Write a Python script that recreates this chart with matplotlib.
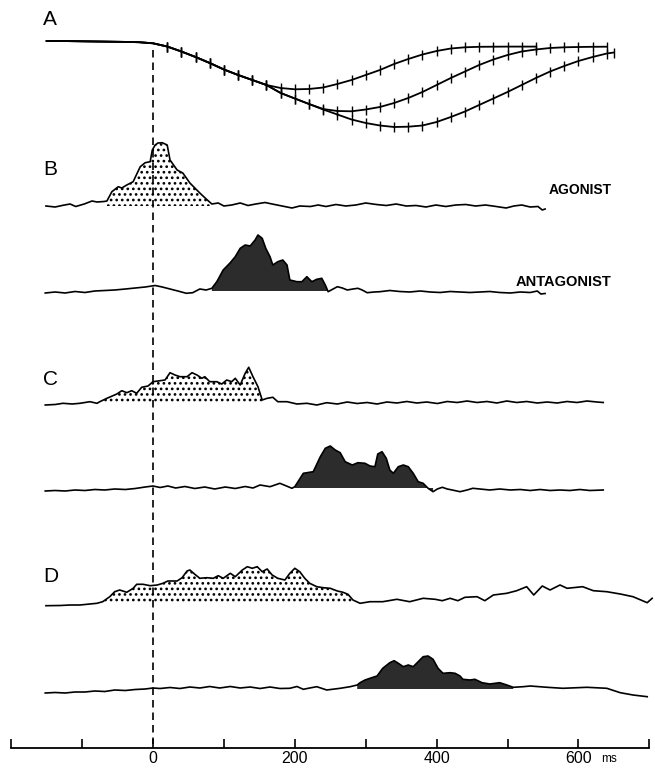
import numpy as np
import matplotlib.pyplot as plt

plt.rcParams['font.family'] = ['Liberation Sans', 'DejaVu Sans']
plt.rcParams['hatch.linewidth'] = 1.15

# ---------------- A: position traces (ms, downward deflection) ----------------
pos_t_early = [-150, -140, -120, -100, -80, -60, -40, -20, 0, 20, 40, 60, 80, 100, 120, 140, 160]
pos_early = [0, 0, 0.1, 0.3, 0.5, 0.7, 0.9, 1.2, 2.3, 5.5, 10.5, 16, 22, 28.5, 34, 39, 44]

pos_fast_t = [180, 200, 220, 240, 260, 280, 300, 320, 340, 360, 380, 400, 420, 440, 460, 480, 500, 520, 540]
pos_fast = [47, 48.3, 48, 46.5, 43, 39, 34, 29, 23, 18, 13.5, 10, 7.5, 6.3, 5.8, 5.7, 5.6, 5.6, 5.6]

pos_mid_t = [180, 200, 220, 240, 260, 280, 300, 320, 340, 360, 380, 400, 420, 440, 460, 480, 500,
             520, 540, 560, 580, 600, 620, 640]
pos_mid = [52, 57.5, 63, 68, 70, 70.3, 68.5, 66, 62, 57, 51, 44, 37, 30.5, 24, 18.5, 14,
           10.5, 8.5, 7, 6.3, 6, 5.8, 5.7]

pos_slow_t = [180, 200, 220, 240, 260, 280, 300, 320, 340, 360, 380, 400, 420, 440, 460, 480, 500,
              520, 540, 560, 580, 600, 620, 640, 650]
pos_slow = [52, 57.5, 63, 68.5, 73.5, 78.5, 82, 84.5, 86, 85.7, 84.5, 81, 76, 70.5, 64, 57.5, 51,
            44, 37, 30.5, 25, 20, 16, 12.5, 11.5]

# ---------------- B: EMG ----------------
b_ago_t = [-151, -138, -127, -117, -109, -97, -86, -79, -69, -65, -58, -49, -44, -37, -28, -18, -11, -4,
           -1, 3, 7, 13, 20, 24, 34, 42, 52, 66, 75, 83, 92, 100, 111, 123, 134, 145, 158, 168, 182,
           196, 207, 222, 233, 244, 258, 272, 286, 300, 315, 329, 343, 357, 371, 385, 399, 413, 427,
           441, 455, 469, 484, 498, 509, 520, 532, 543, 549, 553]
b_ago = [0, -1, 0.7, 2, -0.5, 2, 5, 4, 4.5, 5, 14.3, 19.3, 18, 21, 24.3, 39.3, 43.3, 44.3,
         56, 61, 63, 63.3, 61, 46, 36, 33, 23, 13, 7, 2, 3, 0, 1, 3, 0.5, 2, 3.5, 2, 0,
         -2, 0, -0.5, 1, -0.5, 1.5, 0, 1, 3, 1.5, 0.5, 2, 0, 0.5, -1, 1, -0.5, 1,
         1.5, 0, 1, -0.5, -2, 0, 1, -1, -0.5, -4, -3]

b_ant_t = [-152, -138, -124, -110, -96, -82, -68, -54, -39, -25, -11, 3, 13, 24, 35, 47, 56, 66, 75,
           83, 90, 99, 109, 116, 123, 130, 137, 144, 148, 154, 159, 165, 169, 176, 183, 189, 193,
           203, 210, 217, 224, 231, 238, 243, 247, 254, 260, 267, 274, 282, 289, 295, 302, 312,
           320, 334, 348, 362, 377, 391, 405, 419, 433, 447, 461, 475, 489, 504, 518, 532, 542,
           547, 553]
b_ant = [-2, -1, -2, -0.5, -1.5, 0, 0.5, 1, 2, 3, 4, 5.5, 4, 2, 0, -2.3, -1.7, 2, 1,
         2.7, 9.3, 21, 28.3, 34.3, 42.7, 46, 45, 51, 56, 52.7, 42.7, 34.3, 26, 29.3, 31, 26, 11,
         9.3, 9.3, 14.3, 9.3, 11.7, 12.7, 6, -0.7, 2, 4.3, 3, 1, 2, 2.7, 1, -1.7, -1,
         -0.7, 0.5, -0.5, -1, 0, -1, -1.5, -0.5, -1, -1.5, -1, -0.5, -1.5, -2, -1, -1.5, 0,
         -3, -2.5]

# ---------------- C: EMG ----------------
c_ago_t = [-152, -138, -127, -114, -103, -89, -79, -75, -65, -51, -44, -37, -30, -23, -16, -7, 0,
           10, 17, 24, 31, 38, 48, 55, 62, 69, 73, 80, 90, 97, 104, 111, 116, 123, 130, 135, 141,
           148, 154, 161, 169, 176, 189, 203, 217, 231, 245, 260, 274, 288, 302, 316, 330, 344,
           358, 372, 386, 401, 415, 429, 443, 457, 471, 485, 499, 513, 527, 542, 556, 570, 584,
           598, 612, 626, 635]
c_ago = [-1, -0.5, 0.7, 0, 0.7, 2.3, 0.7, 2.3, 5.7, 10, 13.3, 11.3, 13.3, 10.7, 16.7, 18, 22.3,
         23.3, 24, 31.3, 29, 27.3, 27.3, 31.3, 29, 25.7, 27.3, 22.3, 22.3, 20, 24, 22.3, 25.7, 19,
         30.7, 36.7, 27.3, 17.3, 4, 5.7, 6.7, 2.3, 2.3, 0, 0.7, -1, 1.3, 0, 2, 0.5, 1.5, 0, 2,
         1, 2.5, 1, 2, 0.5, 2.5, 1.5, 3, 1.5, 2.5, 1, 3, 1.5, 2.5, 1, 2, 1, 2.5, 1.5, 3, 2, 1.5]

c_ant_t = [-152, -138, -124, -110, -96, -82, -68, -54, -39, -25, -11, 0, 10, 21, 32, 45, 59, 73,
           87, 102, 116, 130, 141, 151, 165, 179, 196, 200, 212, 226, 236, 243, 250, 257, 264,
           271, 281, 289, 299, 306, 313, 317, 323, 329, 334, 339, 346, 353, 360, 367, 374, 381,
           388, 395, 401, 408, 415, 422, 433, 443, 451, 461, 475, 489, 504, 518, 532, 546, 560,
           574, 588, 602, 616, 635]
c_ant = [-3, -2.5, -3, -2, -2.5, -1.5, -2, -1, -1.5, -0.5, 1, 2, 0.5, 2, 0, 1.5, -0.5, 1,
         -1, 1, -0.5, 1.5, 0, 3, 1.3, 4.7, -0.3, 1.3, 14.7, 16.3, 31.3, 39.7, 42, 38, 35.3,
         26.3, 23, 25.3, 24.7, 22, 21.3, 34, 36.3, 29.7, 18, 14.7, 21.3, 23, 21.3, 14.7, 6.3, 4.7,
         -0.3, -3.7, -1, 0.7, -1, -2, -3.7, -2, -0.3, -1, -2, -1, -2, -1.5, -2.5, -1.5, -2.5,
         -2, -2.5, -1.5, -2.5, -2]

# ---------------- D: EMG ----------------
d_ago_t = [-151, -131, -117, -103, -89, -79, -71, -61, -54, -47, -37, -28, -23, -14, -4, 6, 14, 21,
           34, 41, 48, 52, 59, 66, 76, 85, 92, 99, 109, 116, 126, 133, 140, 147, 154, 161, 168,
           176, 186, 193, 200, 207, 214, 221, 231, 240, 250, 260, 268, 275, 282, 292, 306, 324,
           344, 362, 381, 398, 408, 419, 430, 440, 457, 468, 480, 499, 513, 527, 537, 549, 560,
           574, 584, 606, 621, 640, 659, 677, 697, 704]
d_ago = [-1.7, -1.5, -1, -1, 0, 0.7, 2.3, 7.3, 12.3, 14, 11.7, 15.7, 19.7, 19.7, 18.3, 19, 20.7, 23,
         23, 26.3, 33, 34, 29.7, 25.7, 26.3, 25.7, 28.3, 25.7, 30.7, 27.3, 34, 37.3, 35.7, 37.3,
         32.3, 35, 29, 25.7, 24, 30.7, 35.7, 32.3, 25.7, 20.7, 17.3, 16.3, 15.7, 13, 11.7, 9.7, 4,
         0.7, 2.3, 2.3, 4.7, 2.3, 5.7, 4.7, 3.3, 5.7, 3.3, 6.7, 7.3, 3.3, 9, 10.7, 13.3, 17.3, 9,
         18, 14, 19, 15.7, 17.3, 13.3, 12.3, 10, 7.3, 1.3, 5.7]

d_ant_t = [-152, -138, -124, -110, -96, -82, -68, -54, -39, -25, -11, 0, 10, 24, 38, 52, 66, 80,
           94, 109, 123, 137, 151, 165, 179, 193, 203, 212, 221, 231, 245, 264, 278, 288, 292,
           299, 306, 316, 324, 334, 340, 346, 353, 360, 367, 374, 381, 388, 395, 402, 409, 419,
           426, 433, 437, 447, 454, 464, 475, 489, 499, 508, 522, 532, 556, 578, 612, 640, 659,
           677, 697]
d_ant = [-4, -3.5, -4, -3, -3, -2, -2.5, -1, -1.5, -0.5, 0, 1, 0.5, 1.5, 0.5, 2, 1, 2.5,
         1, 2.5, 1, 2, 0.5, 2, 0.5, 0.7, 2.5, -0.3, 1, 2.3, -1, 0.7, 2.3, 4, 6.3, 9, 10.7, 13,
         20.7, 26.3, 28.3, 25.7, 22.3, 24, 22.3, 27.3, 32.3, 33, 29.7, 20.7, 15.7, 16.3, 15.7,
         13, 9.7, 9, 9.7, 6.3, 5, 6.3, 4, 1.7, 2.3, 3, 1.7, 0.7, 1.7, 0.7, -3.7, -6, -7.7]

# burst windows (ms) that are shaded
b_ago_burst = (-65, 83)
b_ant_burst = (83, 247)
c_ago_burst = (-75, 154)
c_ant_burst = (200, 395)
d_ago_burst = (-71, 282)
d_ant_burst = (288, 508)

# ---------------- layout (vertical positions, px from top) ----------------
POS_Y0 = 41
traces = [
    (b_ago_t, b_ago, 206, b_ago_burst, False),
    (b_ant_t, b_ant, 291, b_ant_burst, True),
    (c_ago_t, c_ago, 404, c_ago_burst, False),
    (c_ant_t, c_ant, 488, c_ant_burst, True),
    (d_ago_t, d_ago, 604, d_ago_burst, False),
    (d_ant_t, d_ant, 689, d_ant_burst, True),
]

AX_Y = 748  # px from top where the time axis sits
fig = plt.figure(figsize=(6.55, 7.70), dpi=100)
ax = fig.add_axes([0, (770 - AX_Y) / 770, 1, AX_Y / 770])
ax.set_xlim(-215.8, 708.0)
ax.set_ylim(AX_Y, 0)

# position traces
for bt, bv in [(pos_fast_t, pos_fast), (pos_mid_t, pos_mid), (pos_slow_t, pos_slow)]:
    t = np.array(pos_t_early + bt)
    y = POS_Y0 + np.array(pos_early + bv)
    marks = list(np.where(t >= 20)[0])
    ax.plot(t, y, color='black', lw=1.3, marker='|', markersize=6.5,
            markeredgewidth=1.0, markevery=marks)

# EMG traces
for tt, vv, base, burst, dark in traces:
    t = np.array(tt, dtype=float)
    y = base - np.array(vv, dtype=float)
    m = (t >= burst[0]) & (t <= burst[1])
    if dark:
        ax.fill_between(t, y, base, where=m, facecolor='#2c2c2c', lw=0, zorder=2)
    else:
        ax.fill_between(t, y, base, where=m, facecolor='white', edgecolor='black',
                        hatch='...', lw=0, zorder=2)
    ax.plot(t, y, color='black', lw=1.2, zorder=3)

# movement onset
ax.vlines(0, 50, AX_Y - 4, colors='black', linestyles=(0, (4.5, 3)), lw=1.2)

# panel letters and muscle labels
for lab, yy in [('A', 19), ('B', 169), ('C', 379), ('D', 577)]:
    ax.text(-155, yy, lab, fontsize=15, ha='left', va='center')
ax.text(647, 190, 'AGONIST', fontsize=10, fontweight='bold', ha='right', va='center')
ax.text(647, 282, 'ANTAGONIST', fontsize=10.5, fontweight='bold', ha='right', va='center')

# time axis
for s in ['top', 'left', 'right']:
    ax.spines[s].set_visible(False)
ax.spines['bottom'].set_bounds(-200, 700)
ax.spines['bottom'].set_linewidth(1.3)
ticks = list(range(-200, 701, 100))
ax.set_xticks(ticks)
ax.set_xticklabels([str(v) if v in (0, 200, 400, 600) else '' for v in ticks])
ax.tick_params(axis='x', direction='in', length=6.5, width=1.2, pad=2.0, labelsize=11.5)
ax.set_yticks([])
ax.text(632, AX_Y + 11, 'ms', fontsize=8.5, ha='left', va='center')

fig.savefig('out.png', dpi=100)
